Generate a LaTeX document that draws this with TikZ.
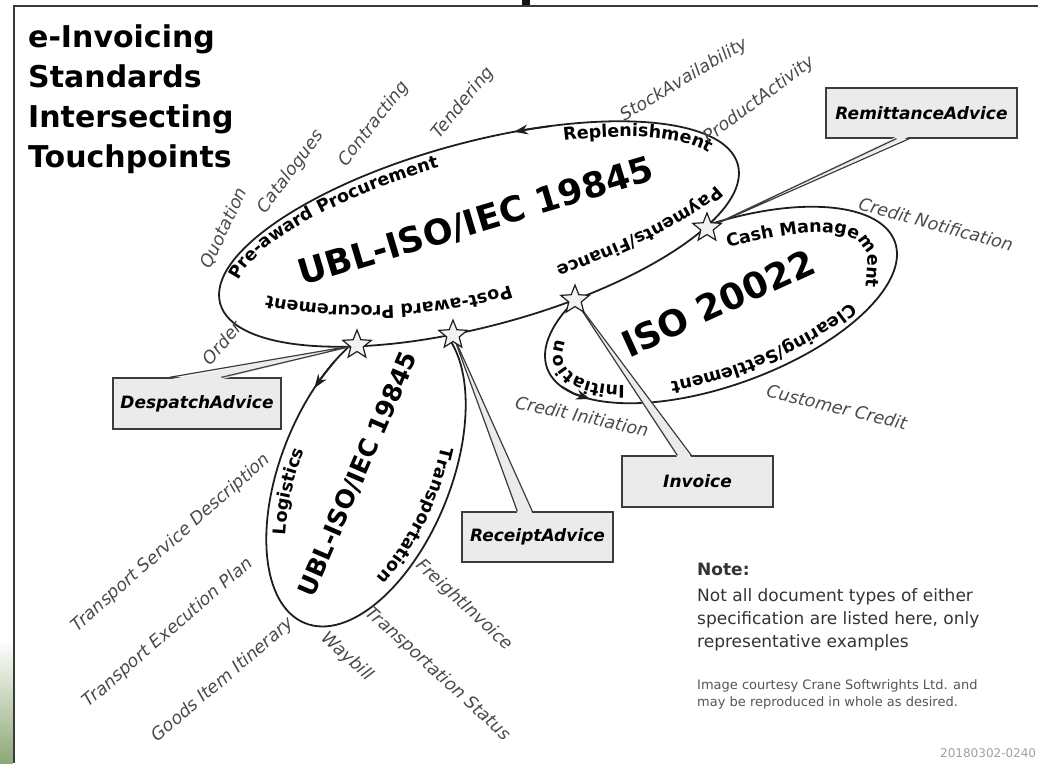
\documentclass[tikz,border=0pt]{standalone}
\usepackage{fontspec}
\setmainfont{DejaVu Sans}
\usetikzlibrary{shapes.geometric,arrows.meta,decorations.text}
\definecolor{inkline}{HTML}{1E1E1E}
\definecolor{labelgray}{HTML}{4A4A4A}
\definecolor{boxfill}{HTML}{EBEBEB}
\definecolor{boxline}{HTML}{3C3C3C}
\definecolor{starfill}{HTML}{F2F2F2}
\definecolor{framegray}{HTML}{3A3A3A}
\definecolor{slidegreen}{HTML}{8DA874}
\definecolor{notegray}{HTML}{333333}
\definecolor{smallgray}{HTML}{555555}
\definecolor{stampgray}{HTML}{A0A0A0}
\definecolor{markdark}{HTML}{1C1210}
\newcommand{\arcfont}{\bfseries\fontsize{17.5}{19}\selectfont}

\begin{document}
\begin{tikzpicture}[x=1pt,y=1pt,
  declare function={
    % UBL ellipse: centre (479,-234), tilt 15
    uix(\t)=479+251*cos(\t)*0.96593-75*sin(\t)*0.25882;
    uiy(\t)=-234+251*cos(\t)*0.25882+75*sin(\t)*0.96593;
    uox(\t)=479+268*cos(\t)*0.96593-92*sin(\t)*0.25882;
    uoy(\t)=-234+268*cos(\t)*0.25882+92*sin(\t)*0.96593;
    % ISO 20022 ellipse: centre (721,-305), tilt 20
    six(\t)=721+167*cos(\t)*0.93969-61*sin(\t)*0.34202;
    siy(\t)=-305+167*cos(\t)*0.34202+61*sin(\t)*0.93969;
    sox(\t)=721+185*cos(\t)*0.93969-80*sin(\t)*0.34202;
    soy(\t)=-305+185*cos(\t)*0.34202+80*sin(\t)*0.93969;
    % logistics ellipse: centre (366,-472), tilt 68
    vix(\t)=366+144*cos(\t)*0.37461-65*sin(\t)*0.92718;
    viy(\t)=-472+144*cos(\t)*0.92718+65*sin(\t)*0.37461;
    vox(\t)=366+163*cos(\t)*0.37461-85*sin(\t)*0.92718;
    voy(\t)=-472+163*cos(\t)*0.92718+85*sin(\t)*0.37461;
  },
  outline/.style={draw=inkline, line width=1.8pt},
  tip/.style={-{Stealth[length=14pt,width=10pt]}, draw=inkline, line width=1.8pt},
  doctype/.style={font=\itshape\fontsize{17.5}{20}\selectfont, text=labelgray, inner sep=0pt},
  callout/.style={draw=boxline, line width=1.3pt, fill=boxfill,
    font=\bfseries\itshape\fontsize{17}{20}\selectfont, inner sep=0pt},
  junction/.style={star, star points=5, star point ratio=2.3, minimum size=30pt,
    inner sep=0pt, draw=inkline, line width=1.2pt, fill=starfill},
  tail/.style={draw=boxline, line width=1.2pt},
  curved/.style={decorate, decoration={text along path, text align=left, text={|\arcfont|#1}}},
  heading/.style={anchor=base west, inner sep=0pt, font=\bfseries\fontsize{30}{36}\selectfont},
]
\useasboundingbox (0,0) rectangle (1038,-763);

% slide remnants: frame, green strip, dark mark
\shade[top color=white, bottom color=slidegreen] (0,-640) rectangle (12.6,-763);
\fill[markdark] (522,0) rectangle (530,-5);
\draw[framegray, line width=2.4pt] (1038,-6) -- (14,-6) -- (14,-763);

% the two smaller standards, partly hidden by the UBL ellipse
\draw[outline, rotate around={68:(366,-472)}] (366,-472) ellipse [x radius=163, y radius=85];
\draw[outline, rotate around={20:(721,-305)}] (721,-305) ellipse [x radius=185, y radius=80];
\draw[outline, fill=white, rotate around={15:(479,-234)}] (479,-234) ellipse [x radius=268, y radius=92];

% direction arrows on the ellipses
\draw[tip] plot[domain=69:77, samples=3, variable=\t] ({uox(\t)},{uoy(\t)});
\draw[tip] plot[domain=56:69, samples=3, variable=\t] ({vox(\t)},{voy(\t)});
\draw[tip] plot[domain=196:213, samples=3, variable=\t] ({sox(\t)},{soy(\t)});

% standard names
\node[font=\bfseries\fontsize{35}{40}\selectfont, rotate=16.7, inner sep=0pt] (ublmain) at (476,-222) {UBL-ISO/IEC 19845};
\node[font=\bfseries\fontsize{36}{40}\selectfont, rotate=24.6, inner sep=0pt] (iso) at (718,-303) {ISO 20022};
\node[font=\bfseries\fontsize{25}{28}\selectfont, rotate=66.6, inner sep=0pt] (ublvert) at (358,-474) {UBL-ISO/IEC 19845};

% process areas written along the ellipses
\path[curved={Pre-award Procurement}] plot[domain=167:60, samples=120, variable=\t] ({uix(\t)},{uiy(\t)});
\path[curved={Replenishment}] plot[domain=65:-40, samples=120, variable=\t] ({uix(\t)},{uiy(\t)});
\path[curved={Payments/Finance}] (716,-185) .. controls (692,-209) and (620,-246) .. (528,-276);
\path[curved={Post-award Procurement}] (510,-285) .. controls (430,-312) and (310,-312) .. (246,-290);
\path[curved={Cash Management}] (728,-248) .. controls (800,-228) and (868,-222) .. (868,-262) -- (864,-315);
\path[curved={Clearing/Settlement}] plot[domain=-43:-170, samples=120, variable=\t] ({six(\t)},{siy(\t)});
\path[curved={Initiation}] plot[domain=-135:-240, samples=120, variable=\t] ({six(\t)},{siy(\t)});
\path[curved={Logistics}] plot[domain=128:30, samples=120, variable=\t] ({vix(\t)},{viy(\t)});
\path[curved={Transportation}] plot[domain=-69:-200, samples=120, variable=\t] ({vix(\t)},{viy(\t)});

% document types
\node[doctype, rotate=65] (quotation) at (224,-228) {Quotation};
\node[doctype, rotate=53] (catalogues) at (291,-172) {Catalogues};
\node[doctype, rotate=52] (contracting) at (374,-124) {Contracting};
\node[doctype, rotate=51] (tendering) at (463,-103) {Tendering};
\node[doctype, rotate=31] (stock) at (684,-80) {StockAvailability};
\node[doctype, rotate=36.5] (product) at (759,-100) {ProductActivity};
\node[doctype, rotate=-15.4] (crednote) at (936,-224) {Credit Notification};
\node[doctype, rotate=-13.3] (custcred) at (837,-407) {Customer Credit};
\node[doctype, rotate=-12.2] (credinit) at (582,-416) {Credit Initiation};
\node[doctype, rotate=49] (order) at (222,-343) {Order};
\node[doctype, rotate=41.5] (tsd) at (171,-543) {Transport Service Description};
\node[doctype, rotate=40.8] (tep) at (168,-633) {Transport Execution Plan};
\node[doctype, rotate=40.6] (gii) at (223,-680) {Goods Item Itinerary};
\node[doctype, rotate=-41.6] (waybill) at (347,-657) {Waybill};
\node[doctype, rotate=-42.3] (tstatus) at (438,-674) {Transportation Status};
\node[doctype, rotate=-42.8] (freight) at (464,-605) {FreightInvoice};

% intersection points
\coordinate (p1) at (357,-345);
\coordinate (p2) at (453,-335);
\coordinate (p3) at (575,-300);
\coordinate (p4) at (707,-228);

% shared document types in callouts
\node[callout, minimum width=191pt, minimum height=50pt] (remit) at (921.5,-113) {RemittanceAdvice};
\node[callout, minimum width=168pt, minimum height=51pt] (despatch) at (197,-403.5) {DespatchAdvice};
\node[callout, minimum width=151pt, minimum height=50pt] (receipt) at (537.5,-537) {ReceiptAdvice};
\node[callout, minimum width=151pt, minimum height=51pt] (invoice) at (697.5,-481.5) {Invoice};

\coordinate (ra1) at ([xshift=71pt]remit.south west);
\coordinate (ra2) at ([xshift=84pt]remit.south west);
\coordinate (da1) at ([xshift=57pt]despatch.north west);
\coordinate (da2) at ([xshift=109pt]despatch.north west);
\coordinate (rc1) at ([xshift=56pt]receipt.north west);
\coordinate (rc2) at ([xshift=71pt]receipt.north west);
\coordinate (iv1) at ([xshift=56pt]invoice.north west);
\coordinate (iv2) at ([xshift=70pt]invoice.north west);

\fill[boxfill] ([yshift=2pt]ra1) -- (p4) -- ([yshift=2pt]ra2) -- cycle;
\fill[boxfill] ([yshift=-2pt]da1) -- (p1) -- ([yshift=-2pt]da2) -- cycle;
\fill[boxfill] ([yshift=-2pt]rc1) -- (p2) -- ([yshift=-2pt]rc2) -- cycle;
\fill[boxfill] ([yshift=-2pt]iv1) -- (p3) -- ([yshift=-2pt]iv2) -- cycle;
\draw[tail] (ra1) -- (p4) -- (ra2);
\draw[tail] (da1) -- (p1) -- (da2);
\draw[tail] (rc1) -- (p2) -- (rc2);
\draw[tail] (iv1) -- (p3) -- (iv2);

\node[junction] (s1) at (p1) {};
\node[junction] (s2) at (p2) {};
\node[junction] (s3) at (p3) {};
\node[junction] (s4) at (p4) {};

% heading
\node[heading] (h1) at (28,-47) {e-Invoicing};
\node[heading] (h2) at (28,-87) {Standards};
\node[heading] (h3) at (28,-127) {Intersecting};
\node[heading] (h4) at (28,-167) {Touchpoints};

% note
\node[anchor=base west, inner sep=0pt, text=notegray, font=\bfseries\fontsize{17}{20}\selectfont] (notehead) at (697,-575) {Note:};
\node[anchor=base west, inner sep=0pt, text=notegray, font=\fontsize{17}{20}\selectfont] (note1) at (697,-601) {Not all document types of either};
\node[anchor=base west, inner sep=0pt, text=notegray, font=\fontsize{17}{20}\selectfont] (note2) at (697,-624) {specification are listed here, only};
\node[anchor=base west, inner sep=0pt, text=notegray, font=\fontsize{17}{20}\selectfont] (note3) at (697,-647) {representative examples};
\node[anchor=base west, inner sep=0pt, text=smallgray, font=\fontsize{13}{15}\selectfont] (credit1) at (697,-689) {Image courtesy Crane Softwrights Ltd. and};
\node[anchor=base west, inner sep=0pt, text=smallgray, font=\fontsize{13}{15}\selectfont] (credit2) at (697,-706) {may be reproduced in whole as desired.};
\node[anchor=west, inner sep=0pt, text=stampgray, font=\fontsize{12}{12}\selectfont] (stamp) at (940,-753) {20180302-0240};
\end{tikzpicture}
\end{document}
